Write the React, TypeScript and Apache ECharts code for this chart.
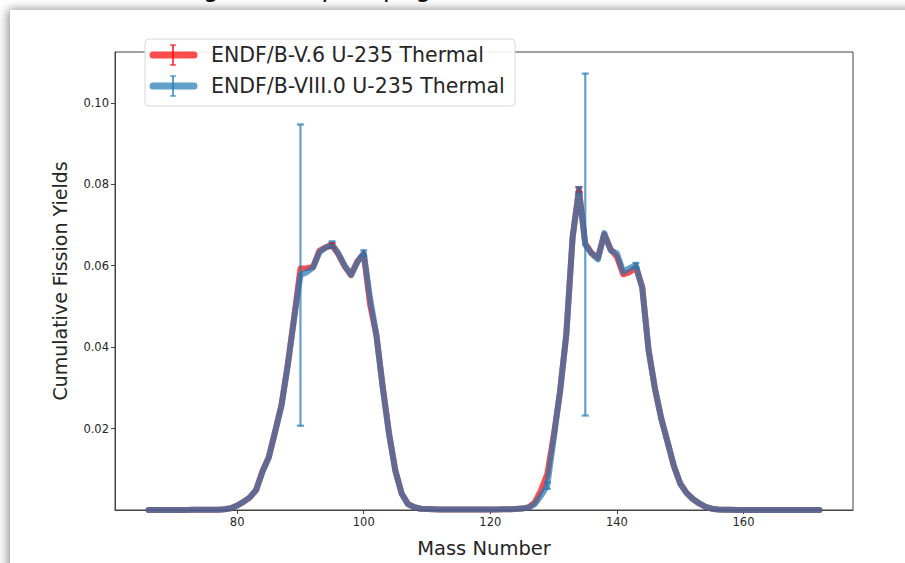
import React, { useEffect, useRef } from "react";
import * as echarts from "echarts";

// Mass numbers 66..172
const masses: number[] = [];
for (let a = 66; a <= 172; a++) masses.push(a);

// ENDF/B-V.6 U-235 Thermal cumulative yields
const yieldsV6: number[] = [
  0.000001, 0.000002, 0.000003, 0.000005, 0.000009, 0.00002, 0.00003, 0.00004, 0.00005, 0.00006, // 66-75
  0.00007, 0.00009, 0.0002, 0.00045, 0.0011, 0.002, 0.0031, 0.0049, 0.0095, 0.013, // 76-85
  0.0193, 0.0258, 0.0358, 0.0473, 0.0593, 0.0594, 0.0597, 0.0637, 0.0645, 0.065, // 86-95
  0.0628, 0.0598, 0.0577, 0.0611, 0.0629, 0.0505, 0.0429, 0.0303, 0.0188, 0.0096, // 96-105
  0.004, 0.00145, 0.00067, 0.00031, 0.00025, 0.00018, 0.00013, 0.00014, 0.00012, 0.00011, // 106-115
  0.00011, 0.00011, 0.00011, 0.00012, 0.00013, 0.00015, 0.00016, 0.00016, 0.00027, 0.00034, // 116-125
  0.0006, 0.0018, 0.0048, 0.0088, 0.0181, 0.0289, 0.0431, 0.067, 0.0787, 0.0654, // 126-135
  0.0631, 0.0619, 0.0677, 0.0641, 0.0622, 0.0579, 0.0584, 0.0596, 0.0548, 0.0393, // 136-145
  0.0299, 0.0225, 0.0167, 0.0108, 0.0065, 0.0042, 0.0027, 0.0016, 0.00074, 0.00032, // 146-155
  0.00013, 0.000062, 0.000033, 0.00001, 0.000003, 0.000002, 0.000001, 0.000001, 0.0000005, 0.0000003, // 156-165
  0.0000002, 0.0000001, 0.0000001, 0.0, 0.0, 0.0, 0.0, // 166-172
];

// ENDF/B-VIII.0 U-235 Thermal cumulative yields
const yieldsVIII: number[] = [
  0.000001, 0.000002, 0.000003, 0.000005, 0.000009, 0.00002, 0.00003, 0.00004, 0.00005, 0.00006, // 66-75
  0.00007, 0.00009, 0.0002, 0.00045, 0.0011, 0.002, 0.0031, 0.0049, 0.0094, 0.0129, // 76-85
  0.0192, 0.0256, 0.0355, 0.047, 0.0577, 0.0584, 0.0596, 0.0633, 0.0645, 0.0652, // 86-95
  0.063, 0.06, 0.0578, 0.0609, 0.0631, 0.052, 0.043, 0.03, 0.0186, 0.0096, // 96-105
  0.004, 0.00145, 0.00067, 0.00031, 0.00025, 0.00018, 0.00013, 0.00014, 0.00012, 0.00011, // 106-115
  0.00011, 0.00011, 0.00011, 0.00012, 0.00013, 0.00015, 0.00016, 0.00016, 0.00027, 0.00034, // 116-125
  0.0006, 0.0014, 0.0035, 0.006, 0.0175, 0.029, 0.043, 0.067, 0.0785, 0.0652, // 126-135
  0.063, 0.0616, 0.068, 0.0638, 0.063, 0.0585, 0.0594, 0.0601, 0.0545, 0.0393, // 136-145
  0.0299, 0.0225, 0.0167, 0.0108, 0.0065, 0.0042, 0.0027, 0.0016, 0.00074, 0.00032, // 146-155
  0.00013, 0.000062, 0.000033, 0.00001, 0.000003, 0.000002, 0.000001, 0.000001, 0.0000005, 0.0000003, // 156-165
  0.0000002, 0.0000001, 0.0000001, 0.0, 0.0, 0.0, 0.0, // 166-172
];

// Uncertainties (only non-negligible ones)
const errMassV6: number[] = [95, 134];
const errValV6: number[] = [0.0006, 0.0006];
const errMassVIII: number[] = [90, 95, 100, 129, 134, 135, 143];
const errValVIII: number[] = [0.037, 0.0008, 0.0007, 0.0008, 0.0008, 0.042, 0.0006];

const xTicks: number[] = [80, 100, 120, 140, 160];
const yTicks: number[] = [0.02, 0.04, 0.06, 0.08, 0.1];

const legendLabels: string[] = ["ENDF/B-V.6 U-235 Thermal", "ENDF/B-VIII.0 U-235 Thermal"];

const RED = "rgba(255,0,0,0.7)";
const BLUE = "rgba(31,119,180,0.7)";
const FONT = "DejaVu Sans";

function errData(ms: number[], es: number[], ys: number[]) {
  return ms.map((m, i) => {
    const v = ys[masses.indexOf(m)];
    return [m, v - es[i], v + es[i]];
  });
}

function errSeries(data: number[][], color: string) {
  return {
    type: "custom",
    data,
    z: 5,
    renderItem: (_p: any, api: any) => {
      const x = api.value(0);
      const lo = api.coord([x, api.value(1)]);
      const hi = api.coord([x, api.value(2)]);
      const cw = 3.5;
      const st = { stroke: color, lineWidth: 2.2 };
      return {
        type: "group",
        children: [
          { type: "line", shape: { x1: lo[0], y1: lo[1], x2: hi[0], y2: hi[1] }, style: st },
          { type: "line", shape: { x1: lo[0] - cw, y1: lo[1], x2: lo[0] + cw, y2: lo[1] }, style: st },
          { type: "line", shape: { x1: hi[0] - cw, y1: hi[1], x2: hi[0] + cw, y2: hi[1] }, style: st },
        ],
      };
    },
  };
}

function legendGraphic() {
  const els: any[] = [
    {
      type: "rect",
      shape: { x: 145, y: 39, width: 370, height: 67, r: 4 },
      style: { fill: "rgba(255,255,255,0.9)", stroke: "#d8d8d8", lineWidth: 1 },
      z: 100,
    },
  ];
  const rows = [
    { y: 55, c: RED, label: legendLabels[0] },
    { y: 86, c: BLUE, label: legendLabels[1] },
  ];
  rows.forEach((r) => {
    els.push({
      type: "line",
      shape: { x1: 153, y1: r.y, x2: 194, y2: r.y },
      style: { stroke: r.c, lineWidth: 7, lineCap: "round" },
      z: 101,
    });
    els.push({
      type: "line",
      shape: { x1: 173, y1: r.y - 10, x2: 173, y2: r.y + 10 },
      style: { stroke: r.c, lineWidth: 2 },
      z: 102,
    });
    els.push({
      type: "line",
      shape: { x1: 170, y1: r.y - 10, x2: 176, y2: r.y - 10 },
      style: { stroke: r.c, lineWidth: 1.5 },
      z: 102,
    });
    els.push({
      type: "line",
      shape: { x1: 170, y1: r.y + 10, x2: 176, y2: r.y + 10 },
      style: { stroke: r.c, lineWidth: 1.5 },
      z: 102,
    });
    els.push({
      type: "text",
      x: 211,
      y: r.y,
      style: {
        text: r.label,
        fill: "#262626",
        font: `20.5px '${FONT}'`,
        textVerticalAlign: "middle",
        verticalAlign: "middle",
      },
      z: 102,
    });
  });
  return els;
}

export default function App() {
  const ref = useRef<HTMLDivElement>(null);
  useEffect(() => {
    if (!ref.current) return;
    const chart = echarts.init(ref.current, null, { renderer: "svg" });
    const dataV6 = masses.map((m, i) => [m, yieldsV6[i]]);
    const dataVIII = masses.map((m, i) => [m, yieldsVIII[i]]);
    const axisColor = "#444";
    chart.setOption({
      animation: false,
      grid: {
        left: 115,
        right: 52,
        top: 52,
        bottom: 53,
        show: true,
        borderColor: axisColor,
        borderWidth: 1,
        backgroundColor: "transparent",
      },
      xAxis: {
        type: "value",
        min: 60.7,
        max: 177.3,
        name: "Mass Number",
        nameLocation: "middle",
        nameGap: 28,
        nameTextStyle: { fontFamily: FONT, fontSize: 19.5, color: "#262626" },
        splitLine: { show: false },
        axisLine: { show: true, onZero: false, lineStyle: { color: axisColor } },
        axisTick: { show: true, length: 4, customValues: xTicks, lineStyle: { color: axisColor } },
        axisLabel: {
          customValues: xTicks,
          fontFamily: FONT,
          fontSize: 11.5,
          color: "#262626",
          margin: 6,
        },
      },
      yAxis: {
        type: "value",
        min: 0,
        max: 0.1125,
        name: "Cumulative Fission Yields",
        nameLocation: "middle",
        nameGap: 46,
        nameTextStyle: { fontFamily: FONT, fontSize: 19, color: "#262626" },
        splitLine: { show: false },
        axisLine: { show: true, lineStyle: { color: axisColor } },
        axisTick: { show: true, length: 4, customValues: yTicks, lineStyle: { color: axisColor } },
        axisLabel: {
          customValues: yTicks,
          formatter: (v: number) => v.toFixed(2),
          fontFamily: FONT,
          fontSize: 11.5,
          color: "#262626",
          margin: 6,
        },
      },
      series: [
        {
          type: "line",
          data: dataV6,
          showSymbol: false,
          z: 2,
          lineStyle: { color: "#ff0000", opacity: 0.7, width: 6, join: "round", cap: "round" },
          itemStyle: { color: "#ff0000" },
        },
        errSeries(errData(errMassV6, errValV6, yieldsV6), RED),
        {
          type: "line",
          data: dataVIII,
          showSymbol: false,
          z: 3,
          lineStyle: { color: "#1f77b4", opacity: 0.7, width: 6, join: "round", cap: "round" },
          itemStyle: { color: "#1f77b4" },
        },
        errSeries(errData(errMassVIII, errValVIII, yieldsVIII), BLUE),
      ],
      graphic: [
        {
          type: "text",
          x: 120,
          y: 0,
          style: {
            text: "Plotting the output (page 1)",
            fill: "#111",
            font: `26px '${FONT}'`,
            verticalAlign: "bottom",
            textVerticalAlign: "bottom",
          },
          z: 1,
        },
        ...legendGraphic(),
      ],
    });
    return () => chart.dispose();
  }, []);

  return (
    <div
      style={{
        position: "fixed",
        left: 0,
        top: 0,
        width: 905,
        height: 563,
        background: "#ffffff",
        overflow: "hidden",
      }}
    >
      <div
        style={{
          position: "absolute",
          left: 10,
          top: 10,
          width: 920,
          height: 600,
          background: "#ffffff",
          boxShadow: "-3px 0 10px rgba(0,0,0,0.35), 0 -2px 8px rgba(0,0,0,0.12)",
        }}
      />
      <div
        ref={ref}
        style={{ position: "absolute", left: 0, top: 0, width: 905, height: 563 }}
      />
    </div>
  );
}
